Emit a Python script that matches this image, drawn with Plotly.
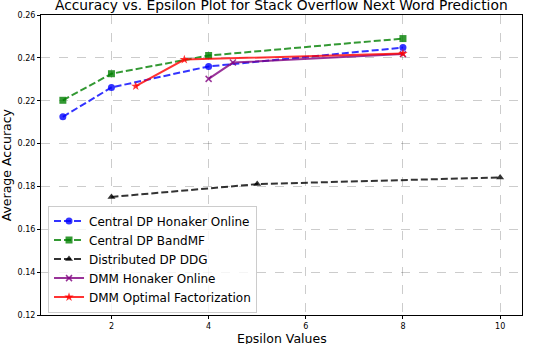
import plotly.graph_objects as go

# values
honaker_eps = [1, 2, 4, 8]
honaker_acc = [0.2125, 0.2262, 0.2360, 0.2448]

bandmf_eps = [1, 2, 4, 8]
bandmf_acc = [0.2202, 0.2326, 0.2411, 0.2490]

ddg_eps = [2, 5, 10]
ddg_acc = [0.1751, 0.1811, 0.1842]

dmm_hon_eps = [4, 4.5, 8]
dmm_hon_acc = [0.2302, 0.2378, 0.2418]

dmm_opt_eps = [2.5, 3.5, 8]
dmm_opt_acc = [0.2268, 0.2392, 0.2420]

y_ticks = [0.12, 0.14, 0.16, 0.18, 0.20, 0.22, 0.24, 0.26]
x_ticks = [2, 4, 6, 8, 10]

FONT = "DejaVu Sans"

fig = go.Figure()

series = [
    ("Central DP Honaker Online", honaker_eps, honaker_acc, "rgba(0,0,255,0.8)", "7px,3px", "circle", 7, 2),
    ("Central DP BandMF", bandmf_eps, bandmf_acc, "rgba(0,128,0,0.8)", "7px,3px", "square", 7, 2),
    ("Distributed DP DDG", ddg_eps, ddg_acc, "rgba(0,0,0,0.8)", "7px,3px", "triangle-up", 7, 2),
    ("DMM Honaker Online", dmm_hon_eps, dmm_hon_acc, "rgba(128,0,128,0.8)", "solid", "x-thin", 6, 2),
    ("DMM Optimal Factorization", dmm_opt_eps, dmm_opt_acc, "rgba(255,0,0,0.8)", "solid", "star", 7, 2),
]

for name, xs, ys, color, dash, symbol, msize, lw in series:
    fig.add_trace(go.Scatter(
        x=xs, y=ys, name=name, mode="lines+markers",
        line=dict(color=color, dash=dash, width=lw),
        marker=dict(symbol=symbol, size=msize, color=color,
                    line=dict(color=color, width=1.5 if symbol == "x-thin" else 0)),
    ))

# title and axis labels as annotations so they can sit where the reference has them
fig.add_annotation(text="Accuracy vs. Epsilon Plot for Stack Overflow Next Word Prediction",
                   xref="paper", yref="paper", x=0.5, y=1.035, xanchor="center", yanchor="middle",
                   showarrow=False, font=dict(size=13.8, family=FONT))
fig.add_annotation(text="Epsilon Values",
                   xref="paper", yref="paper", x=0.5, y=-0.077, xanchor="center", yanchor="middle",
                   showarrow=False, font=dict(size=12.5, family=FONT))
fig.add_annotation(text="Average Accuracy", textangle=-90,
                   xref="paper", yref="paper", x=-0.072, y=0.5, xanchor="center", yanchor="middle",
                   showarrow=False, font=dict(size=12.5, family=FONT))

fig.update_layout(
    width=548, height=344,
    margin=dict(l=41, r=26, t=15, b=29),
    paper_bgcolor="white", plot_bgcolor="white",
    font=dict(family=FONT, color="black"),
    legend=dict(x=0.0146, y=0.008, xanchor="left", yanchor="bottom",
                bgcolor="rgba(255,255,255,0.8)", bordercolor="#cccccc", borderwidth=1,
                font=dict(size=12, family=FONT), tracegroupgap=0, itemwidth=30),
    showlegend=True,
)

fig.update_xaxes(
    range=[0.55, 10.45], tickvals=x_ticks, tickfont=dict(size=8),
    showline=True, linecolor="black", linewidth=1, mirror=True,
    ticks="outside", ticklen=3, tickcolor="black",
    showgrid=True, gridcolor="rgba(0,0,0,0.2)", griddash="dash", gridwidth=0.8,
    zeroline=False, automargin=False,
)
fig.update_yaxes(
    range=[0.12, 0.26], tickvals=y_ticks, tickformat=".2f", tickfont=dict(size=8),
    showline=True, linecolor="black", linewidth=1, mirror=True,
    ticks="outside", ticklen=3, tickcolor="black",
    showgrid=True, gridcolor="rgba(0,0,0,0.2)", griddash="dash", gridwidth=0.8,
    zeroline=False, automargin=False,
)

# drop the browser's default 8px body margin so the figure sits at the page corner
fig.write_html("out.html", config={"displayModeBar": False},
               post_script="document.body.style.margin='0';")
